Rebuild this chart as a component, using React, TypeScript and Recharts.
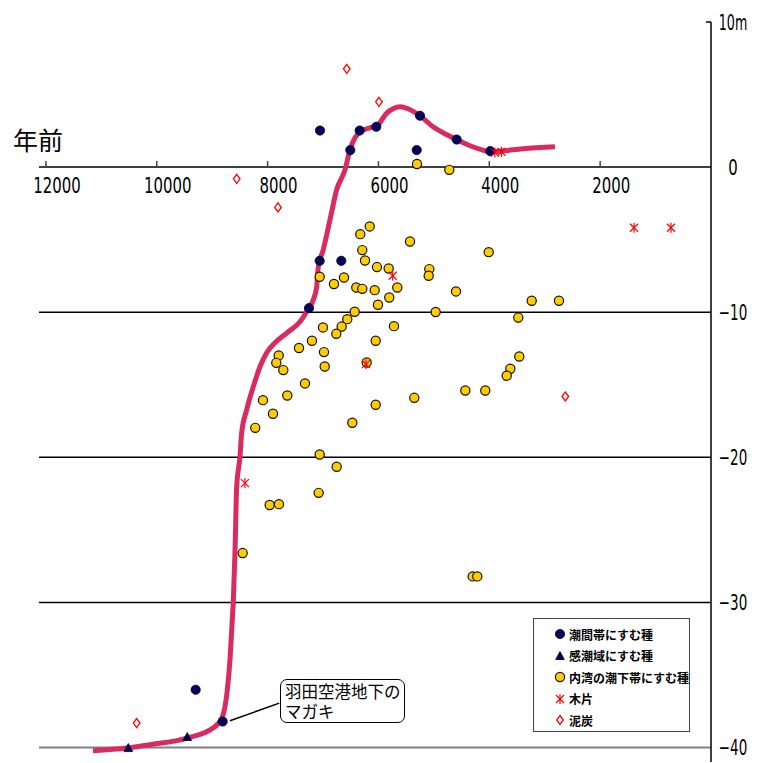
import React from 'react';
import {
  ComposedChart,
  Line,
  Scatter,
  XAxis,
  YAxis,
  ReferenceLine,
  ReferenceDot,
} from 'recharts';

// 海水準曲線 (年前, m)
const curve = [
  { year: 11151, m: -40.23 }, { year: 10538, m: -40.04 }, { year: 10123, m: -39.81 },
  { year: 9455, m: -39.35 }, { year: 8986, m: -38.66 }, { year: 8824, m: -37.97 },
  { year: 8733, m: -36.23 }, { year: 8679, m: -33.96 }, { year: 8638, m: -31.2 },
  { year: 8620, m: -30.03 }, { year: 8589, m: -26.58 }, { year: 8558, m: -22.03 },
  { year: 8499, m: -19.97 }, { year: 8468, m: -18.31 }, { year: 8378, m: -16.73 },
  { year: 8259, m: -15.14 }, { year: 8138, m: -13.76 }, { year: 8017, m: -12.8 },
  { year: 7867, m: -12.11 }, { year: 7651, m: -11.42 }, { year: 7416, m: -10.66 },
  { year: 7295, m: -9.97 }, { year: 7176, m: -9.15 }, { year: 7115, m: -8.25 },
  { year: 7086, m: -6.87 }, { year: 6996, m: -5.7 }, { year: 6875, m: -3.63 },
  { year: 6754, m: -1.56 }, { year: 6604, m: -0.19 }, { year: 6514, m: 1.19 },
  { year: 6424, m: 2.02 }, { year: 6333, m: 2.43 }, { year: 6153, m: 2.71 },
  { year: 6027, m: 2.85 }, { year: 5846, m: 3.74 }, { year: 5738, m: 4.02 },
  { year: 5612, m: 4.16 }, { year: 5467, m: 4.02 }, { year: 5251, m: 3.54 },
  { year: 5016, m: 2.78 }, { year: 4764, m: 2.23 }, { year: 4583, m: 1.88 },
  { year: 4349, m: 1.47 }, { year: 4132, m: 1.19 }, { year: 3988, m: 1.05 },
  { year: 3753, m: 1.12 }, { year: 3392, m: 1.26 }, { year: 2815, m: 1.4 },
];

// 潮間帯にすむ種
const intertidal = [
  { year: 7055, m: 2.52 }, { year: 6508, m: 1.17 }, { year: 6339, m: 2.52 },
  { year: 6039, m: 2.78 }, { year: 5251, m: 3.54 }, { year: 5310, m: 1.17 },
  { year: 4589, m: 1.9 }, { year: 3982, m: 1.1 }, { year: 7061, m: -6.46 },
  { year: 6671, m: -6.46 }, { year: 7254, m: -9.72 }, { year: 9298, m: -36.02 },
  { year: 8811, m: -38.21 },
];

// 感潮域にすむ種
const estuarine = [
  { year: 10514, m: -40.04 }, { year: 9450, m: -39.28 },
];

// 内湾の潮下帯にすむ種
const subtidal = [
  { year: 6328, m: -4.62 }, { year: 6158, m: -4.09 }, { year: 5431, m: -5.13 },
  { year: 4011, m: -5.86 }, { year: 6292, m: -5.72 }, { year: 6243, m: -6.44 },
  { year: 6027, m: -6.89 }, { year: 5816, m: -6.99 }, { year: 5083, m: -7.03 },
  { year: 5094, m: -7.49 }, { year: 7061, m: -7.56 }, { year: 6622, m: -7.61 },
  { year: 6803, m: -8.06 }, { year: 6400, m: -8.3 }, { year: 6292, m: -8.39 },
  { year: 6068, m: -8.48 }, { year: 5660, m: -8.3 }, { year: 5805, m: -8.99 },
  { year: 4601, m: -8.57 }, { year: 6009, m: -9.49 }, { year: 6429, m: -9.97 },
  { year: 4968, m: -9.99 }, { year: 6563, m: -10.48 }, { year: 7001, m: -11.05 },
  { year: 6664, m: -10.99 }, { year: 6761, m: -11.49 }, { year: 5720, m: -10.96 },
  { year: 7200, m: -11.97 }, { year: 7434, m: -12.47 }, { year: 6050, m: -11.97 },
  { year: 6983, m: -12.75 }, { year: 7800, m: -12.98 }, { year: 7844, m: -13.49 },
  { year: 7717, m: -13.99 }, { year: 6970, m: -13.74 }, { year: 7326, m: -14.91 },
  { year: 8084, m: -16.06 }, { year: 7645, m: -15.74 }, { year: 7903, m: -17.0 },
  { year: 8223, m: -17.97 }, { year: 6472, m: -17.62 }, { year: 6050, m: -16.38 },
  { year: 5354, m: -15.9 }, { year: 4433, m: -15.4 }, { year: 4073, m: -15.4 },
  { year: 6213, m: -13.47 }, { year: 3235, m: -9.21 }, { year: 2743, m: -9.21 },
  { year: 3477, m: -10.37 }, { year: 3459, m: -13.05 }, { year: 3621, m: -13.9 },
  { year: 3686, m: -14.38 }, { year: 7061, m: -19.81 }, { year: 6754, m: -20.65 },
  { year: 7079, m: -22.45 }, { year: 7963, m: -23.29 }, { year: 7795, m: -23.23 },
  { year: 8450, m: -26.6 }, { year: 4300, m: -28.21 }, { year: 4217, m: -28.21 },
  { year: 5305, m: 0.21 }, { year: 4722, m: -0.19 },
];

// 木片
const wood = [
  { year: 1389, m: -4.18 }, { year: 722, m: -4.18 }, { year: 5743, m: -7.49 },
  { year: 6225, m: -13.58 }, { year: 8409, m: -21.78 }, { year: 3900, m: 1.0 },
  { year: 3780, m: 1.05 },
];

// 泥炭
const peat = [
  { year: 6572, m: 6.77 }, { year: 5991, m: 4.5 }, { year: 8558, m: -0.81 },
  { year: 7813, m: -2.78 }, { year: 10363, m: -38.32 }, { year: 2629, m: -15.81 },
];

const xTicks = [12000, 10000, 8000, 6000, 4000, 2000];
const yTicks = [10, 0, -10, -20, -30, -40];
const yLabels = ['10m', '0', '−10', '−20', '−30', '−40'];
const gridLevels = [-10, -20, -30];

// マガキの注記
const calloutFrom = { year: 8679, m: -38.16 };
const calloutTo = { year: 7790, m: -36.94 };

const NAVY = '#000066';
const YELLOW = '#ffcc00';
const RED = '#ff0000';
const CURVE = '#d92b5f';
const NUM_FONT = "'Liberation Sans Narrow', 'DejaVu Sans', sans-serif";
const JP_FONT = "'Noto Sans CJK JP', sans-serif";
const DIGIT_W = 9.5; // 細い数字フォントの幅に合わせる

const NavyDot = ({ cx, cy }: any) => (
  <circle cx={cx} cy={cy} r={4.6} fill={NAVY} stroke="#000" strokeWidth={0.8} />
);
const YellowDot = ({ cx, cy }: any) => (
  <circle cx={cx} cy={cy} r={4.6} fill={YELLOW} stroke="#111" strokeWidth={1.2} />
);
const Triangle = ({ cx, cy }: any) => (
  <polygon
    points={`${cx},${cy - 4.5} ${cx + 4.3},${cy + 3.5} ${cx - 4.3},${cy + 3.5}`}
    fill={NAVY}
    stroke="#000"
    strokeWidth={0.8}
  />
);
const Asterisk = ({ cx, cy }: any) => (
  <g stroke={RED} strokeWidth={1.2}>
    <line x1={cx - 4} y1={cy - 4} x2={cx + 4} y2={cy + 4} />
    <line x1={cx - 4} y1={cy + 4} x2={cx + 4} y2={cy - 4} />
    <line x1={cx} y1={cy - 5} x2={cx} y2={cy + 5} />
  </g>
);
const Diamond = ({ cx, cy }: any) => (
  <polygon
    points={`${cx},${cy - 4.5} ${cx + 3.3},${cy} ${cx},${cy + 4.5} ${cx - 3.3},${cy}`}
    fill="#fff"
    stroke={RED}
    strokeWidth={1.3}
  />
);

const legendItems = [
  { name: '潮間帯にすむ種', shape: NavyDot },
  { name: '感潮域にすむ種', shape: Triangle },
  { name: '内湾の潮下帯にすむ種', shape: YellowDot },
  { name: '木片', shape: Asterisk },
  { name: '泥炭', shape: Diamond },
];

const YTick = ({ x, y, payload }: any) => {
  const label = yLabels[yTicks.indexOf(payload.value)];
  return (
    <text
      x={x + 22}
      y={y}
      dy="0.36em"
      textAnchor="middle"
      fontFamily={NUM_FONT}
      fontSize={21}
      fill="#000"
      textLength={label.length * DIGIT_W}
      lengthAdjust="spacingAndGlyphs"
    >
      {label}
    </text>
  );
};

const XTickMark = ({ cx, cy, label }: any) => {
  const s = String(label);
  return (
    <g>
      <line x1={cx} y1={cy} x2={cx} y2={cy - 6} stroke="#444" strokeWidth={1.5} />
      <text
        x={cx + 11}
        y={cy + 26}
        textAnchor="middle"
        fontFamily={NUM_FONT}
        fontSize={21}
        fill="#000"
        textLength={s.length * DIGIT_W}
        lengthAdjust="spacingAndGlyphs"
      >
        {s}
      </text>
    </g>
  );
};

export default function App() {
  return (
    <div style={{ position: 'absolute', left: 0, top: 0, width: 760, height: 763, background: '#fff', overflow: 'hidden' }}>
      <ComposedChart width={760} height={763} margin={{ top: 22, right: 0, bottom: 1, left: 39 }}>
        <XAxis type="number" dataKey="year" domain={[0, 12125]} reversed hide allowDataOverflow />
        <YAxis
          type="number"
          dataKey="m"
          orientation="right"
          domain={[-41, 10]}
          ticks={yTicks}
          interval={0}
          width={49}
          tickSize={0}
          tickMargin={0}
          tickLine={false}
          axisLine={{ stroke: '#000', strokeWidth: 1.5 }}
          tick={<YTick />}
          allowDataOverflow
        />
        {gridLevels.map((v) => (
          <ReferenceLine key={v} y={v} stroke="#000" strokeWidth={1.5} />
        ))}
        <ReferenceLine y={-40} stroke="#808080" strokeWidth={2} />
        <ReferenceLine y={0} stroke="#000" strokeWidth={1.5} />
        <ReferenceLine segment={[{ x: 0, y: 10 }, { x: 90, y: 10 }]} stroke="#000" strokeWidth={1.5} />
        {xTicks.map((t) => (
          <ReferenceDot key={t} x={t} y={0} r={0} shape={(p: any) => <XTickMark {...p} label={t} />} />
        ))}
        <ReferenceLine
          segment={[{ x: calloutFrom.year, y: calloutFrom.m }, { x: calloutTo.year, y: calloutTo.m }]}
          stroke="#000"
          strokeWidth={1.5}
        />
        <Line
          data={curve}
          dataKey="m"
          type="monotone"
          stroke={CURVE}
          strokeWidth={5}
          dot={false}
          activeDot={false}
          isAnimationActive={false}
        />
        <Scatter data={subtidal} dataKey="m" shape={YellowDot} isAnimationActive={false} />
        <Scatter data={intertidal} dataKey="m" shape={NavyDot} isAnimationActive={false} />
        <Scatter data={estuarine} dataKey="m" shape={Triangle} isAnimationActive={false} />
        <Scatter data={wood} dataKey="m" shape={Asterisk} isAnimationActive={false} />
        <Scatter data={peat} dataKey="m" shape={Diamond} isAnimationActive={false} />
      </ComposedChart>

      <div style={{ position: 'absolute', left: 13, top: 127, fontFamily: JP_FONT, fontSize: 25, lineHeight: 1, color: '#000' }}>
        年前
      </div>

      <div
        style={{
          position: 'absolute',
          left: 280,
          top: 679,
          width: 125,
          height: 44,
          boxSizing: 'border-box',
          border: '1.5px solid #000',
          borderRadius: 7,
          background: '#fff',
          padding: '1px 0 0 4px',
          fontFamily: JP_FONT,
          fontSize: 16.5,
          lineHeight: '20px',
          color: '#000',
          whiteSpace: 'nowrap',
        }}
      >
        羽田空港地下の
        <br />
        マガキ
      </div>

      <div
        style={{
          position: 'absolute',
          left: 533,
          top: 618,
          width: 157,
          height: 114,
          boxSizing: 'border-box',
          border: '1px solid #444',
          background: '#fff',
        }}
      >
        {legendItems.map((item, i) => {
          const Shape = item.shape;
          return (
            <div key={item.name} style={{ position: 'absolute', left: 0, top: 7 + i * 21.5, height: 16, display: 'flex', alignItems: 'center' }}>
              <svg width={14} height={14} style={{ marginLeft: 19 }}>
                <Shape cx={7} cy={7} />
              </svg>
              <span style={{ marginLeft: 2, fontFamily: JP_FONT, fontWeight: 700, fontSize: 12, color: '#000', whiteSpace: 'nowrap' }}>
                {item.name}
              </span>
            </div>
          );
        })}
      </div>
    </div>
  );
}
